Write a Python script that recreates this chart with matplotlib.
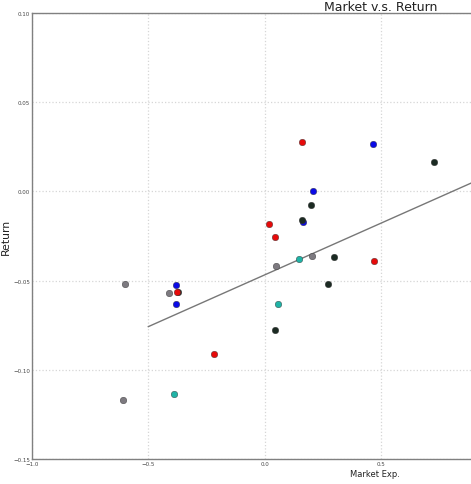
import matplotlib
matplotlib.use("Agg")
import matplotlib.pyplot as plt
import numpy as np

# ---- data ----
gray_x = [0.205, 0.049, -0.602, -0.411, -0.611]
gray_y = [-0.0363, -0.0419, -0.0518, -0.0570, -0.1168]

teal_x = [0.149, 0.056, -0.389]
teal_y = [-0.0380, -0.0629, -0.1134]

blue_x = [0.466, 0.208, 0.165, -0.382, -0.380]
blue_y = [0.0265, 0.0000, -0.0169, -0.0523, -0.0629]

dark_x = [0.727, 0.200, 0.162, 0.296, 0.272, -0.372, 0.044]
dark_y = [0.0166, -0.0078, -0.0158, -0.0369, -0.0518, -0.0562, -0.0777]

red_x = [0.161, 0.0187, 0.046, 0.468, -0.375, -0.216]
red_y = [0.0276, -0.0182, -0.0255, -0.0391, -0.0562, -0.0914]

fit_slope = 0.058
fit_intercept = -0.0468
fit_x = [-0.5, 2.0]

x_ticks = [-1.0, -0.5, 0.0, 0.5]
y_ticks = [-0.15, -0.10, -0.05, 0.00, 0.05, 0.10]

# ---- figure ----
W, H = 471, 485
fig = plt.figure(figsize=(W / 100, H / 100), dpi=100)
fig.patch.set_facecolor("white")
ax = fig.add_axes([32 / W, (H - 460) / H, (730 - 32) / W, (460 - 14) / H])
ax.set_facecolor("white")

groups = [
    (gray_x, gray_y, "#7d7a80"),
    (teal_x, teal_y, "#1fb3a6"),
    (blue_x, blue_y, "#0a0ae6"),
    (dark_x, dark_y, "#1b2a22"),
    (red_x, red_y, "#e60a0a"),
]
for xs, ys, c in groups:
    ax.scatter(xs, ys, s=22, color=c, edgecolors="#333333", linewidths=0.3, zorder=3)

fx = np.array(fit_x)
ax.plot(fx, fit_slope * fx + fit_intercept, color="#777777", lw=1.0, zorder=2)

ax.set_xlim(-1.0, 2.0)
ax.set_ylim(-0.15, 0.10)
ax.set_xticks(x_ticks)
ax.set_yticks(y_ticks)
ax.set_xticklabels([f"{v:.1f}".replace("-", "\u2212") for v in x_ticks])
ax.set_yticklabels([f"{v:.2f}".replace("-", "\u2212") for v in y_ticks])
ax.tick_params(axis="both", labelsize=4, length=0, pad=1.5, labelcolor="#444444")
for v in [1.0, 1.5, 2.0]:
    ax.axvline(v, color="#d6d6d6", linestyle=":", linewidth=0.9, zorder=0)

ax.grid(True, color="#d6d6d6", linestyle=":", linewidth=0.9, zorder=0)
ax.set_axisbelow(True)
for side in ["left", "bottom", "top", "right"]:
    ax.spines[side].set_color("#808080")
    ax.spines[side].set_linewidth(1.0)

ax.set_title("Market v.s. Return", fontsize=9, pad=1, color="#222222")
ax.set_xlabel("Market Exp.", fontsize=6, color="#222222")
ax.xaxis.set_label_coords(0.491, -0.022)
ax.set_ylabel("Return", fontsize=7.8, color="#222222")
ax.yaxis.set_label_coords(-0.030, 0.5)

fig.savefig("out.png", dpi=100, facecolor="white")
